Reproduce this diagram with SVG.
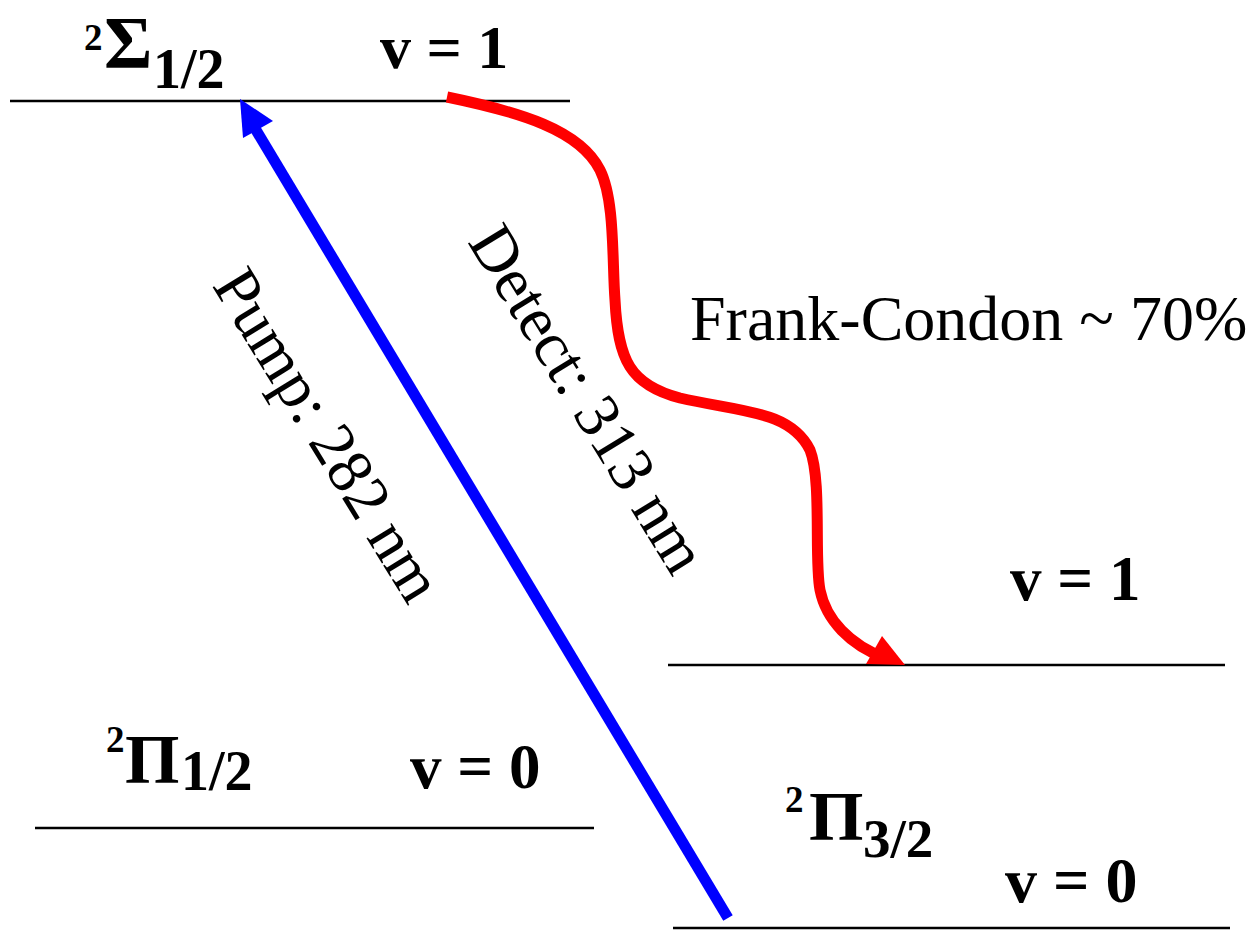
<svg xmlns="http://www.w3.org/2000/svg" width="1252" height="930" viewBox="0 0 1252 930">
<style>
.lvl{stroke:#000;stroke-width:2.5;fill:none}
.b{font-family:"Liberation Serif","Times New Roman",serif;font-weight:bold;fill:#000}
.r{font-family:"Liberation Serif","Times New Roman",serif;fill:#000;font-size:64px}
</style>
<rect width="1252" height="930" fill="#fff"/>
<g id="sigma-level">
<line class="lvl" x1="10" y1="101" x2="570" y2="101"/>
<text class="b" x="84" y="50" font-size="37">2</text>
<text class="b" x="104" y="68" font-size="74">Σ</text>
<text class="b" x="153" y="88" font-size="56">1/2</text>
<text class="b" x="380" y="68" font-size="62">v = 1</text>
</g>
<g id="pi12-level">
<line class="lvl" x1="35" y1="828" x2="594" y2="828"/>
<text class="b" x="106" y="752" font-size="37">2</text>
<text class="b" x="125" y="783" font-size="70">Π</text>
<text class="b" x="181" y="790" font-size="56">1/2</text>
<text class="b" x="410" y="788" font-size="63">v = 0</text>
</g>
<g id="pi32-v1-level">
<line class="lvl" x1="668" y1="665" x2="1225" y2="665"/>
<text class="b" x="1010" y="600" font-size="63">v = 1</text>
</g>
<g id="pi32-v0-level">
<line class="lvl" x1="673" y1="928" x2="1230" y2="928"/>
<text class="b" x="785" y="812" font-size="37">2</text>
<text class="b" x="809" y="840" font-size="70">Π</text>
<text class="b" x="863" y="857" font-size="55">3/2</text>
<text class="b" x="1005" y="902" font-size="64">v = 0</text>
</g>
<g id="connectors">
<g id="pump">
<line x1="728" y1="918" x2="253" y2="125" stroke="#0000ff" stroke-width="11"/>
<polygon points="240,99 273,121 243,138" fill="#0000ff"/>
<text class="r" transform="translate(310,446) rotate(58.5)" text-anchor="middle">Pump: 282 nm</text>
</g>
<g id="detect">
<path d="M447,97 C520,112 580,130 600,170 C615,200 612,260 615,300 C618,360 630,385 680,398 C740,412 790,410 810,450 C822,480 814,560 820,590 C826,620 850,645 885,658" stroke="#ff0000" stroke-width="11" fill="none"/>
<polygon points="905,665 882,636 866,664" fill="#ff0000"/>
<text class="r" transform="translate(570,410) rotate(58.5)" text-anchor="middle">Detect: 313 nm</text>
</g>
</g>
<g id="fc-label">
<text class="r" x="690" y="340" font-size="65">Frank-Condon ~ 70%</text>
</g>
</svg>
